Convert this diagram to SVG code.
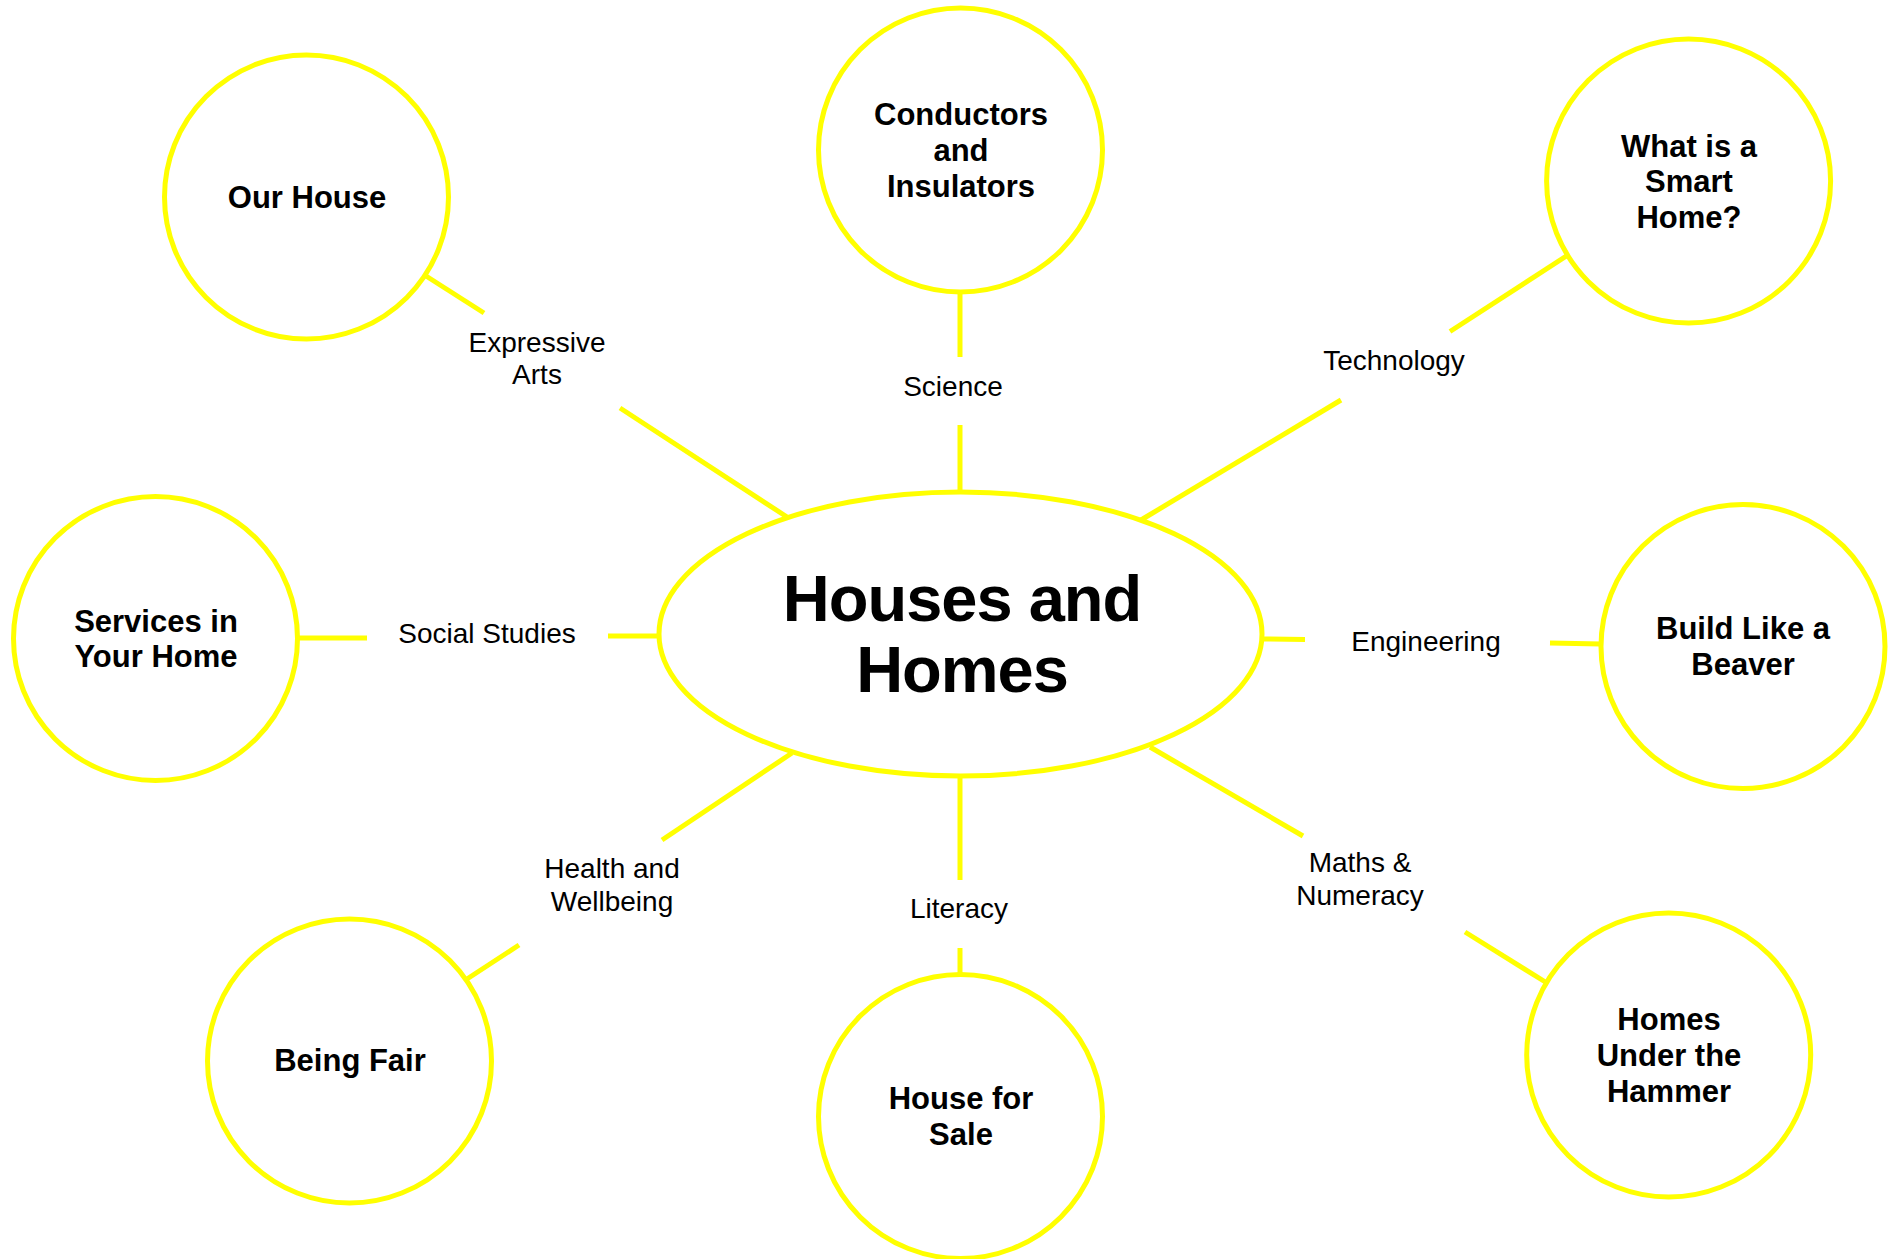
<svg xmlns="http://www.w3.org/2000/svg" width="1896" height="1259" viewBox="0 0 1896 1259">
<style>
.node{fill:#ffffff;stroke:#ffff00;stroke-width:5}
.conn line{stroke:#ffff00;stroke-width:5}
.nt{font-family:"Liberation Sans",Arial,sans-serif;font-weight:bold;font-size:31px;fill:#000000;text-anchor:middle}
.lbl{font-family:"Liberation Sans",Arial,sans-serif;font-size:28px;fill:#000000;text-anchor:middle}
.title{font-family:"Liberation Sans",Arial,sans-serif;font-weight:bold;font-size:65px;letter-spacing:-1px;fill:#000000;text-anchor:middle}
</style>
<rect x="0" y="0" width="1896" height="1259" fill="#ffffff"/>
<g id="connectors" class="conn">
<line x1="426" y1="276" x2="484" y2="313"/>
<line x1="620" y1="408" x2="787" y2="517"/>
<line x1="960" y1="292" x2="960" y2="357"/>
<line x1="960" y1="425" x2="960" y2="492"/>
<line x1="1568" y1="255" x2="1450" y2="331.5"/>
<line x1="1341" y1="400" x2="1141" y2="520"/>
<line x1="297" y1="638" x2="367" y2="638"/>
<line x1="608" y1="636" x2="659" y2="636"/>
<line x1="1262" y1="639" x2="1305" y2="639.5"/>
<line x1="1550" y1="643" x2="1601" y2="644"/>
<line x1="792" y1="753" x2="662" y2="840"/>
<line x1="519" y1="945" x2="467" y2="979"/>
<line x1="960" y1="776" x2="960" y2="880"/>
<line x1="960" y1="948" x2="960" y2="975"/>
<line x1="1150" y1="747" x2="1303" y2="836"/>
<line x1="1465" y1="932" x2="1547" y2="983"/>
</g>
<g id="labels">
<text class="lbl" x="537" y="352">Expressive</text>
<text class="lbl" x="537" y="384">Arts</text>
<text class="lbl" x="953" y="396">Science</text>
<text class="lbl" x="1394" y="370">Technology</text>
<text class="lbl" x="487" y="643">Social Studies</text>
<text class="lbl" x="1426" y="651">Engineering</text>
<text class="lbl" x="612" y="878">Health and</text>
<text class="lbl" x="612" y="911">Wellbeing</text>
<text class="lbl" x="959" y="918">Literacy</text>
<text class="lbl" x="1360" y="872">Maths &amp;</text>
<text class="lbl" x="1360" y="905">Numeracy</text>
</g>
<g id="center">
<ellipse class="node" cx="960.5" cy="634" rx="301.5" ry="142"/>
<text class="title" x="962" y="621">Houses and</text>
<text class="title" x="962" y="692">Homes</text>
</g>
<g id="our-house">
<circle class="node" cx="306.5" cy="197" r="142"/>
<text class="nt" x="307" y="208">Our House</text>
</g>
<g id="conductors">
<circle class="node" cx="960.5" cy="150" r="142"/>
<text class="nt" x="961" y="125">Conductors</text>
<text class="nt" x="961" y="161">and</text>
<text class="nt" x="961" y="197">Insulators</text>
</g>
<g id="smart-home">
<circle class="node" cx="1688.6" cy="181" r="142"/>
<text class="nt" x="1689" y="156.5">What is a</text>
<text class="nt" x="1689" y="192">Smart</text>
<text class="nt" x="1689" y="227.5">Home?</text>
</g>
<g id="services">
<circle class="node" cx="155.5" cy="638.5" r="142"/>
<text class="nt" x="156" y="631.5">Services in</text>
<text class="nt" x="156" y="667">Your Home</text>
</g>
<g id="beaver">
<circle class="node" cx="1743" cy="646.5" r="142"/>
<text class="nt" x="1743" y="639">Build Like a</text>
<text class="nt" x="1743" y="675">Beaver</text>
</g>
<g id="being-fair">
<circle class="node" cx="349.5" cy="1061" r="142"/>
<text class="nt" x="350" y="1071">Being Fair</text>
</g>
<g id="house-for-sale">
<circle class="node" cx="960.5" cy="1116.5" r="142"/>
<text class="nt" x="961" y="1109">House for</text>
<text class="nt" x="961" y="1145">Sale</text>
</g>
<g id="hammer">
<circle class="node" cx="1668.7" cy="1055" r="142"/>
<text class="nt" x="1669" y="1030">Homes</text>
<text class="nt" x="1669" y="1066">Under the</text>
<text class="nt" x="1669" y="1102">Hammer</text>
</g>
</svg>
